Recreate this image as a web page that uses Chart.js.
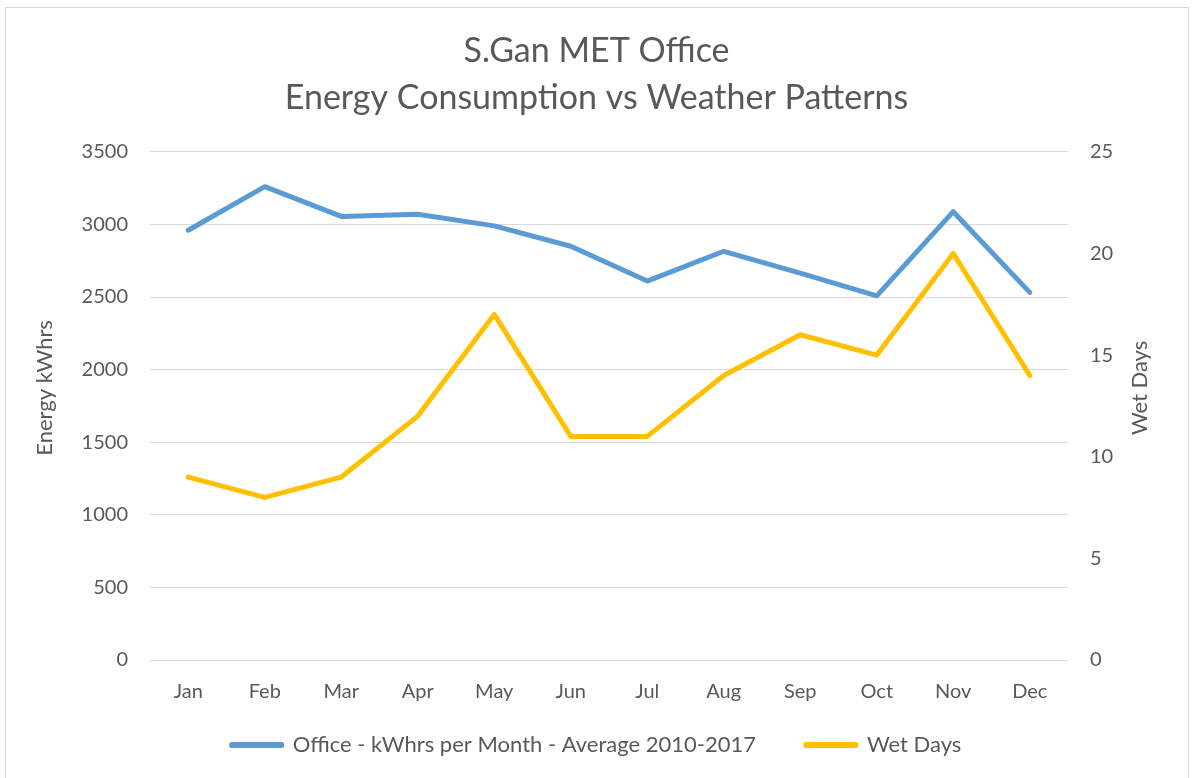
<!DOCTYPE html>
<html>
<head>
<meta charset="utf-8">
<script src="https://cdn.jsdelivr.net/npm/chart.js@4/dist/chart.umd.min.js"></script>
<style>
  html, body { margin: 0; padding: 0; background: #fff; }
  #wrap { position: absolute; left: 0; top: 0; width: 1193px; height: 778px; }
</style>
</head>
<body>
<div id="wrap"><canvas id="lineChart"></canvas></div>
<script>
var months = ['Jan', 'Feb', 'Mar', 'Apr', 'May', 'Jun', 'Jul', 'Aug', 'Sep', 'Oct', 'Nov', 'Dec'];
var energyKwh = [2960, 3260, 3055, 3070, 2990, 2850, 2610, 2815, 2665, 2508, 3088, 2532];
var wetDays = [9, 8, 9, 12, 17, 11, 11, 14, 16, 15, 20, 14];
var energyTicks = [0, 500, 1000, 1500, 2000, 2500, 3000, 3500];
var wetTicks = [0, 5, 10, 15, 20, 25];

var textGrey = '#595959';
var font = 'Lato, "Open Sans", sans-serif';
var rightTitle = 'Wet Days';

// light grey frame round the whole chart, like the spreadsheet chart area
var framePlugin = {
    id: 'frame',
    beforeDraw: function(chart) {
        var c = chart.ctx;
        c.save();
        c.strokeStyle = '#d9d9d9';
        c.lineWidth = 1;
        c.strokeRect(5.5, 7.5, 1183, 800);
        c.restore();
    }
};

// right axis title reads bottom to top, as in the spreadsheet
var rightTitlePlugin = {
    id: 'rightTitle',
    afterDraw: function(chart) {
        var s = chart.scales.y1;
        var c = chart.ctx;
        c.save();
        c.translate(s.right - 53, (s.top + s.bottom) / 2 - 18);
        c.rotate(-Math.PI / 2);
        c.fillStyle = textGrey;
        c.font = '22px ' + font;
        c.textAlign = 'center';
        c.textBaseline = 'middle';
        c.fillText(rightTitle, 0, 0);
        c.restore();
    }
};

// legend keeps a wide gap between items but takes less height;
// its box is then stretched upwards so the labels sit a bit higher
var legendFitPlugin = {
    id: 'legendFit',
    beforeLayout: function(chart) {
        var lg = chart.legend;
        if (lg && !lg._patched) {
            var fit = lg.fit;
            lg.fit = function() {
                fit.call(this);
                this.height = 60;
            };
            lg._patched = true;
        }
    },
    afterLayout: function(chart) {
        var lg = chart.legend;
        if (lg) {
            lg.top -= 22;
            lg.height += 22;
        }
        // the left axis title sits a little above the middle of the plot
        var s = chart.scales.y;
        if (s && !s._titlePatched) {
            var drawTitle = s.drawTitle;
            s.drawTitle = function() {
                var t = this.top;
                this.top -= 36;
                drawTitle.call(this);
                this.top = t;
            };
            s._titlePatched = true;
        }
    }
};

var plain = function(value) { return String(value); };

var ctx = document.getElementById('lineChart').getContext('2d');
var myChart = new Chart(ctx, {
    type: 'line',
    data: {
        labels: months,
        datasets: [
            {
                label: 'Office - kWhrs per Month - Average 2010-2017',
                data: energyKwh,
                borderColor: '#5B9BD5',
                backgroundColor: '#5B9BD5',
                borderWidth: 5,
                borderCapStyle: 'round',
                borderJoinStyle: 'round',
                pointRadius: 0,
                yAxisID: 'y',
                fill: false
            },
            {
                label: 'Wet Days',
                data: wetDays,
                borderColor: '#FFC000',
                backgroundColor: '#FFC000',
                borderWidth: 5,
                borderCapStyle: 'round',
                borderJoinStyle: 'round',
                pointRadius: 0,
                yAxisID: 'y1',
                fill: false
            }
        ]
    },
    options: {
        responsive: true,
        maintainAspectRatio: false,
        animation: false,
        layout: { padding: { left: 0, right: 0, top: 0, bottom: 12 } },
        plugins: {
            title: {
                display: true,
                text: ['S.Gan MET Office', 'Energy Consumption vs Weather Patterns'],
                color: textGrey,
                font: { family: font, size: 34, weight: 'normal', lineHeight: 1.38 },
                padding: { top: 28, bottom: 30 }
            },
            legend: {
                position: 'bottom',
                labels: {
                    color: textGrey,
                    font: { family: font, size: 22 },
                    boxWidth: 50,
                    boxHeight: 1,
                    padding: 50
                }
            },
            tooltip: { enabled: false }
        },
        scales: {
            x: {
                offset: true,
                afterFit: function(scale) { scale.height = 46; },
                grid: { display: false, drawTicks: false },
                border: { display: false },
                ticks: { color: textGrey, font: { family: font, size: 20 }, padding: 20, maxRotation: 0 }
            },
            y: {
                position: 'left',
                min: 0,
                max: 3500,
                afterBuildTicks: function(scale) {
                    scale.ticks = energyTicks.map(function(v) { return { value: v }; });
                },
                afterFit: function(scale) { scale.width = 150; },
                grid: { color: '#d9d9d9', lineWidth: 1, drawTicks: false },
                border: { display: false },
                ticks: { color: textGrey, font: { family: font, size: 20 }, padding: 22, callback: plain },
                title: {
                    display: true,
                    text: 'Energy kWhrs',
                    color: textGrey,
                    font: { family: font, size: 22 },
                    padding: { top: 32, bottom: 0 }
                }
            },
            y1: {
                position: 'right',
                min: 0,
                max: 25,
                afterBuildTicks: function(scale) {
                    scale.ticks = wetTicks.map(function(v) { return { value: v }; });
                },
                afterFit: function(scale) { scale.width = 125; },
                grid: { drawOnChartArea: false, drawTicks: false },
                border: { display: false },
                ticks: { color: textGrey, font: { family: font, size: 20 }, padding: 22, callback: plain }
            }
        }
    },
    plugins: [framePlugin, legendFitPlugin, rightTitlePlugin]
});
</script>
</body>
</html>
